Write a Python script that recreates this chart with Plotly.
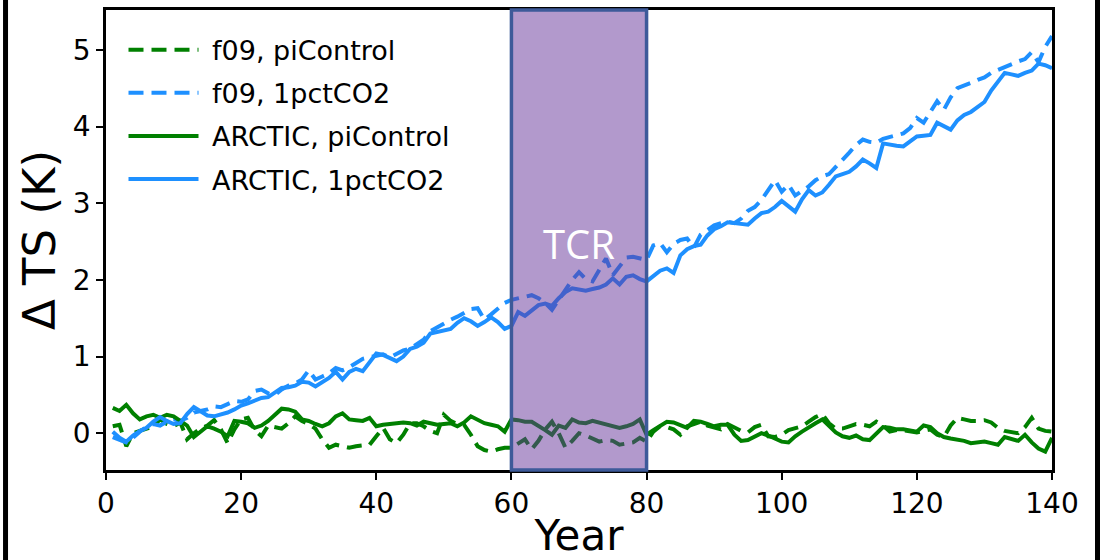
import plotly.graph_objects as go

years = list(range(1, 141))

f09_picontrol = [
    0.09, 0.11, -0.17, 0.00, 0.03, 0.06, 0.09, 0.18, 0.12, 0.09,
    0.14, -0.08, 0.00, 0.06, 0.10, 0.17, 0.05, -0.13, 0.05, 0.18,
    0.20, 0.04, -0.04, 0.10, 0.08, 0.06, 0.13, 0.22, 0.16, 0.12,
    0.06, -0.08, -0.19, -0.15, -0.17, -0.19, -0.17, -0.16, -0.15, -0.04,
    0.07, -0.08, -0.13, -0.02, 0.13, 0.13, 0.09, 0.03, 0.00, 0.24,
    0.16, 0.12, 0.11, -0.02, -0.17, -0.22, -0.24, -0.21, -0.19, -0.19,
    -0.14, -0.08, -0.21, -0.10, 0.05, 0.15, 0.00, -0.19, -0.10, 0.00,
    -0.03, -0.07, -0.11, -0.09, -0.10, -0.15, -0.14, -0.12, -0.06, -0.11,
    0.02, 0.09, 0.08, 0.05, -0.02, 0.09, 0.12, 0.15, 0.10, 0.07,
    0.05, 0.12, 0.08, 0.03, 0.01, 0.08, 0.11, -0.04, -0.05, -0.02,
    0.04, 0.06, 0.09, 0.15, 0.21, 0.25, 0.13, 0.06, 0.06, 0.09,
    0.12, 0.11, 0.09, 0.15, 0.10, 0.02, 0.04, 0.04, 0.02, 0.01,
    0.03, 0.05, -0.02, -0.05, 0.10, 0.20, 0.18, 0.16, 0.16, 0.17,
    0.14, 0.07, 0.03, 0.01, 0.00, 0.08, 0.20, 0.06, 0.03, 0.02,
]

f09_1pctco2 = [
    -0.05, -0.08, -0.12, -0.06, 0.02, 0.08, 0.12, 0.10, 0.15, 0.18,
    0.16, 0.20, 0.27, 0.29, 0.31, 0.35, 0.34, 0.38, 0.42, 0.41,
    0.44, 0.55, 0.57, 0.52, 0.50, 0.57, 0.62, 0.65, 0.70, 0.82,
    0.70, 0.74, 0.78, 0.85, 0.82, 0.86, 0.92, 0.97, 0.99, 1.01,
    1.03, 0.99, 1.04, 1.08, 1.10, 1.16, 1.22, 1.33, 1.38, 1.44,
    1.48, 1.52, 1.57, 1.62, 1.63, 1.48, 1.55, 1.62, 1.70, 1.74,
    1.76, 1.78, 1.80, 1.76, 1.70, 1.61, 1.74, 1.87, 2.00, 2.10,
    2.01, 1.98, 2.13, 2.28, 2.06, 2.18, 2.29, 2.30, 2.28, 2.26,
    2.45, 2.48, 2.36, 2.47, 2.52, 2.54, 2.42, 2.59, 2.65, 2.71,
    2.74, 2.76, 2.74, 2.80, 2.90, 2.95, 3.04, 3.18, 3.30, 3.15,
    3.24, 3.10, 3.16, 3.22, 3.30, 3.35, 3.38, 3.47, 3.57, 3.66,
    3.76, 3.83, 3.80, 3.79, 3.84, 3.86, 3.88, 3.91, 3.98, 4.11,
    4.05, 4.20, 4.33, 4.22, 4.38, 4.50, 4.53, 4.57, 4.61, 4.64,
    4.70, 4.74, 4.78, 4.82, 4.85, 4.88, 4.97, 4.84, 5.04, 5.18,
]

arctic_picontrol = [
    0.33, 0.29, 0.37, 0.26, 0.18, 0.22, 0.24, 0.20, 0.24, 0.22,
    0.16, 0.10, -0.05, 0.02, 0.09, 0.06, 0.02, -0.04, 0.16, 0.15,
    0.13, 0.07, 0.10, 0.16, 0.24, 0.32, 0.31, 0.28, 0.18, 0.16,
    0.12, 0.09, 0.13, 0.22, 0.26, 0.18, 0.17, 0.16, 0.20, 0.09,
    0.11, 0.12, 0.13, 0.14, 0.13, 0.10, 0.15, 0.13, 0.11, 0.12,
    0.13, 0.09, 0.14, 0.22, 0.17, 0.13, 0.11, 0.09, 0.02, 0.18,
    0.17, 0.15, 0.15, 0.10, 0.04, -0.02, 0.10, 0.07, 0.18, 0.14,
    0.13, 0.16, 0.14, 0.11, 0.10, 0.07, 0.09, 0.12, 0.18, -0.02,
    0.04, 0.09, 0.15, 0.14, 0.11, 0.07, 0.16, 0.15, 0.12, 0.09,
    0.11, 0.11, -0.02, -0.10, -0.09, -0.04, 0.00, -0.03, -0.07, -0.11,
    -0.12, -0.04, 0.02, 0.08, 0.13, 0.18, 0.09, 0.01, -0.04, -0.06,
    -0.03, -0.08, -0.09, 0.00, 0.08, 0.07, 0.05, 0.05, 0.04, 0.02,
    0.10, 0.08, 0.00, -0.05, -0.07, -0.08, -0.10, -0.13, -0.12, -0.11,
    -0.13, -0.15, -0.05, -0.08, -0.10, -0.02, -0.12, -0.20, -0.24, -0.06,
]

arctic_1pctco2 = [
    0.02, -0.06, -0.11, -0.03, 0.03, 0.07, 0.15, 0.21, 0.16, 0.12,
    0.13, 0.25, 0.34, 0.29, 0.23, 0.22, 0.24, 0.27, 0.31, 0.36,
    0.39, 0.43, 0.46, 0.47, 0.53, 0.59, 0.60, 0.62, 0.67, 0.66,
    0.61, 0.66, 0.72, 0.80, 0.70, 0.80, 0.84, 0.81, 0.92, 1.04,
    1.02, 0.98, 0.94, 1.00, 1.10, 1.13, 1.18, 1.30, 1.32, 1.34,
    1.36, 1.44, 1.50, 1.46, 1.40, 1.45, 1.51, 1.45, 1.36, 1.40,
    1.58, 1.53, 1.60, 1.67, 1.69, 1.66, 1.76, 1.84, 1.89, 1.87,
    1.86, 1.88, 1.90, 1.94, 2.02, 1.94, 2.04, 2.06, 2.01, 1.98,
    2.05, 2.12, 2.15, 2.09, 2.32, 2.40, 2.44, 2.46, 2.58, 2.66,
    2.70, 2.75, 2.74, 2.73, 2.72, 2.80, 2.87, 2.89, 2.95, 3.03,
    2.96, 2.89, 3.05, 3.17, 3.10, 3.14, 3.24, 3.35, 3.38, 3.41,
    3.48, 3.57, 3.52, 3.46, 3.78, 3.76, 3.75, 3.74, 3.80, 3.87,
    3.88, 3.89, 4.05, 4.00, 3.96, 4.08, 4.15, 4.19, 4.25, 4.32,
    4.47, 4.59, 4.70, 4.68, 4.66, 4.70, 4.73, 4.82, 4.80, 4.76,
]

x_ticks = [0, 20, 40, 60, 80, 100, 120, 140]
y_ticks = [0, 1, 2, 3, 4, 5]
tcr_start, tcr_end = 60, 80

GREEN = "#008000"
BLUE = "#1e90ff"
DASH = "15px,8px"
FONT = "DejaVu Sans"

fig = go.Figure()
series = [
    ("f09, piControl", f09_picontrol, GREEN, DASH),
    ("f09, 1pctCO2", f09_1pctco2, BLUE, DASH),
    ("ARCTIC, piControl", arctic_picontrol, GREEN, "solid"),
    ("ARCTIC, 1pctCO2", arctic_1pctco2, BLUE, "solid"),
]
for i, (name, vals, col, dash) in enumerate(series):
    fig.add_trace(go.Scatter(
        x=years, y=vals, mode="lines", name="\u00a0" + name,
        legendgroup=f"g{i}",
        line=dict(color=col, width=4, dash=dash),
    ))

# TCR window (semi-transparent overlay on top of lines)
fig.add_shape(type="rect", xref="x", yref="paper",
              x0=tcr_start, x1=tcr_end, y0=0, y1=1,
              fillcolor="rgba(102,51,153,0.5)",
              line=dict(color="#3d5a99", width=3.5), layer="above")
fig.add_annotation(x=(tcr_start + tcr_end) / 2, y=2.48, xref="x", yref="y",
                   text="TCR", showarrow=False,
                   font=dict(family="Open Sans", size=40, color="white"))

# outer frame (left/right black bars)
for xp in (-0.1062, 1.0481):
    fig.add_shape(type="line", xref="paper", yref="paper",
                  x0=xp, x1=xp, y0=-0.25, y1=1.05,
                  line=dict(color="black", width=5), layer="above")

axis_common = dict(
    showline=True, linecolor="black", linewidth=2.5, mirror=True,
    ticks="outside", ticklen=7, tickwidth=2, tickcolor="black",
    showgrid=False, zeroline=False, automargin=False,
    tickfont=dict(family=FONT, size=28, color="black"),
)
fig.update_xaxes(range=[0, 140], tickvals=x_ticks,
                 title=dict(text="Year", font=dict(family=FONT, size=42, color="black"), standoff=17),
                 **axis_common)
fig.update_yaxes(range=[-0.48, 5.52], tickvals=y_ticks,
                 title=dict(text="Δ TS (K)", font=dict(family=FONT, size=45, color="black"), standoff=4),
                 **axis_common)

fig.update_layout(
    width=1102, height=560,
    margin=dict(l=106, r=50, t=10, b=90),
    plot_bgcolor="white", paper_bgcolor="white",
    font=dict(family=FONT, color="black"),
    legend=dict(x=0.0185, y=0.966, xanchor="left", yanchor="top",
                bgcolor="rgba(0,0,0,0)", font=dict(family=FONT, size=27, color="black"),
                itemwidth=70, tracegroupgap=5),
)

fig.write_html("out.html")
